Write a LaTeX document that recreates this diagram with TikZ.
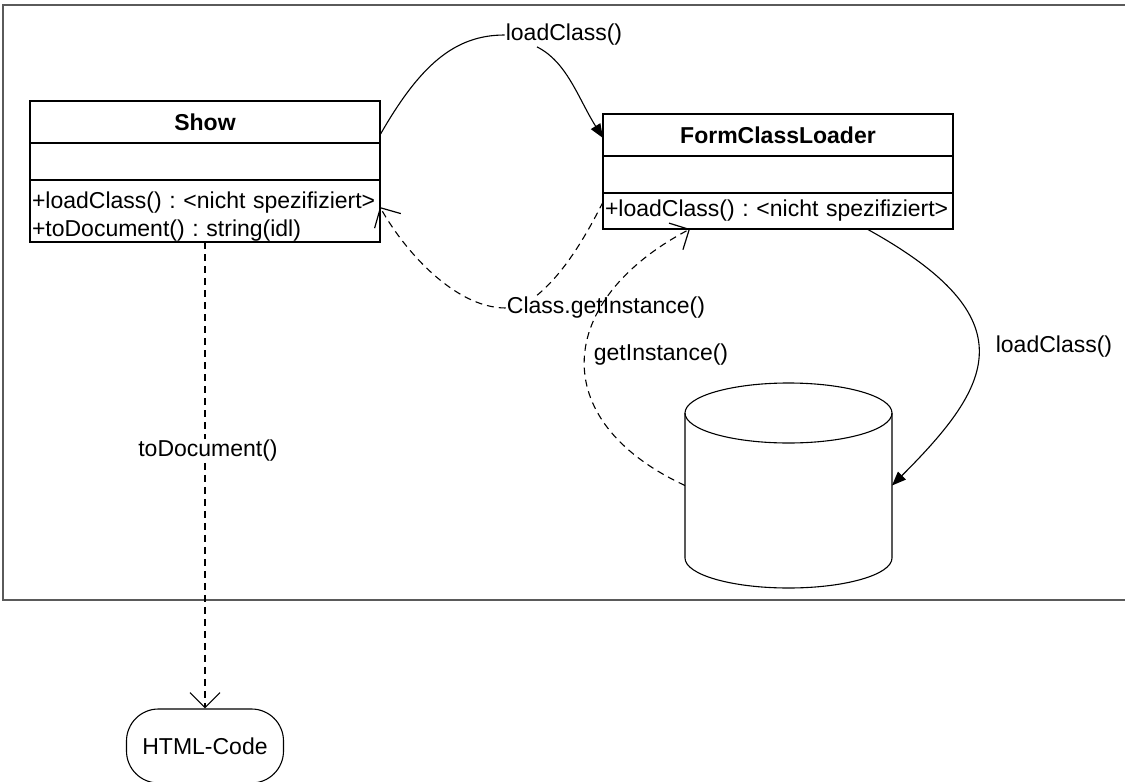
\documentclass[tikz,border=0pt]{standalone}
\usepackage{fontspec}
\setmainfont{Liberation Sans}
\usetikzlibrary{positioning,calc,arrows.meta}
\definecolor{umlFrameLine}{HTML}{5A5A5A}
\tikzset{
  uml text/.style={font=\fontsize{23pt}{28pt}\selectfont\frenchspacing},
  class part/.style={
    rectangle, draw, line width=1.6pt,
    outer sep=0pt, inner xsep=2pt, inner ysep=0pt,
    minimum width=350pt, uml text,
  },
  class title/.style={class part, minimum height=42pt,
    font=\fontsize{23pt}{28pt}\selectfont\bfseries},
  class ops/.style={class part, align=left, text width=346pt},
  result box/.style={
    rectangle, draw, rounded corners=32pt, line width=1.1pt,
    minimum width=157pt, minimum height=74pt, uml text,
  },
  call label/.style={uml text, inner sep=1pt},
  call/.style={line width=1.1pt},
  call arrow/.style={call, -{Triangle[length=14pt,width=11pt]}},
  reply/.style={call, dash pattern=on 7pt off 5pt},
  reply arrow/.style={reply, -{Straight Barb[length=15pt,width=30pt,line width=1.2pt]}},
  store line/.style={line width=1.1pt},
  frame line/.style={draw=umlFrameLine, line width=1.6pt},
}

\begin{document}
\begin{tikzpicture}[x=1pt, y=-1pt]
\useasboundingbox (0,0) rectangle (1125,782);

% package frame, open on the right
\draw[frame line] (1130,5) -- (3,5) -- (3,600) -- (1130,600);

% class Show
\node[class title] (show) at (205,122) {Show};
\node[class part, minimum height=37pt, below=0pt of show] (showAttr) {};
\node[class ops, minimum height=62pt, below=0pt of showAttr] (showOps)
  {\rule{0pt}{28pt}\mbox{+loadClass() : <nicht spezifiziert>}\\\mbox{+toDocument() : string(idl)}};

% class FormClassLoader
\node[class title] (loader) at (778,135) {FormClassLoader};
\node[class part, minimum height=37pt, below=0pt of loader] (loaderAttr) {};
\node[class ops, minimum height=36pt, below=0pt of loaderAttr] (loaderOps)
  {\mbox{+loadClass() : <nicht spezifiziert>}};

% class store (cylinder)
\node[minimum width=207pt, minimum height=205pt, inner sep=0pt, outer sep=0pt]
  (store) at (788.5,485.5) {};
\draw[store line] ([yshift=-30pt]store.north west) -- ([yshift=30pt]store.south west)
  arc[start angle=180, end angle=360, x radius=103.5pt, y radius=30pt]
  -- ([yshift=-30pt]store.north east);
\draw[store line] ([yshift=-30pt]store.north) ellipse [x radius=103.5pt, y radius=30pt];

% output
\node[result box] (html) at (205,746) {HTML-Code};

% message labels
\node[call label] (lblLoadTop) at (564,35) {loadClass()};
\node[call label] (lblClassInst) at (606,308) {Class.getInstance()};
\node[call label] (lblGetInst) at (661,355) {getInstance()};
\node[call label] (lblLoadRight) at (1054,347) {loadClass()};
\node[call label] (lblToDoc) at (208,451) {toDocument()};

% messages
\draw[call] ([yshift=-13pt]show.east) .. controls +(40,-70) and +(-50,0) .. (lblLoadTop.west);
\draw[call arrow] ([xshift=-27pt]lblLoadTop.south) .. controls +(30,15) and +(-25,-40) .. ([yshift=-3pt]loader.west);
\draw[reply] ([yshift=9pt]loaderOps.west) .. controls +(-20,40) and +(25,-20) .. ([xshift=-70pt]lblClassInst.north);
\draw[reply arrow] (lblClassInst.west) .. controls +(-50,0) and +(25,45) .. ([yshift=4pt]showOps.east);
\draw[reply arrow] (store.west) .. controls +(-140,-65) and +(-135,71) .. ([xshift=-88pt]loaderOps.south);
\draw[call arrow] ([xshift=89pt]loaderOps.south) .. controls +(163,90) and +(100,-100) .. (store.east);
\draw[reply] (showOps.south) -- (showOps.south |- lblToDoc.north);
\draw[reply arrow] (showOps.south |- lblToDoc.south) -- (html);

\end{tikzpicture}
\end{document}
